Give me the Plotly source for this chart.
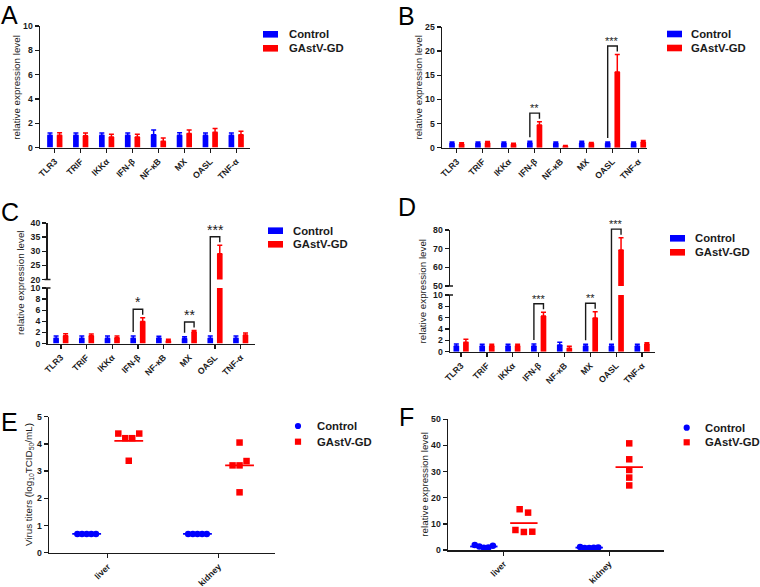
import plotly.graph_objects as go

W, H = 760, 587
FONT = "Liberation Sans, Arial, sans-serif"
BLUE = "#0000ff"
RED = "#ff0000"
INK = "#1a1a1a"

# ---------------- data ----------------
genes = ["TLR3", "TRIF", "IKKα", "IFN-β", "NF-κB", "MX", "OASL", "TNF-α"]
series_names = ["Control", "GAstV-GD"]

a_ctrl = [1.0, 1.0, 1.0, 1.0, 1.05, 1.0, 1.0, 1.0]
a_ctrl_err = [0.2, 0.2, 0.2, 0.2, 0.4, 0.22, 0.2, 0.2]
a_gd = [1.0, 0.97, 0.87, 0.87, 0.52, 1.15, 1.25, 1.05]
a_gd_err = [0.22, 0.22, 0.22, 0.22, 0.27, 0.3, 0.32, 0.28]

b_ctrl = [0.9, 0.9, 0.9, 1.0, 0.9, 1.0, 0.9, 0.9]
b_ctrl_err = [0.3, 0.3, 0.3, 0.35, 0.3, 0.35, 0.3, 0.3]
b_gd = [0.75, 1.0, 0.7, 4.7, 0.3, 0.9, 15.7, 1.2]
b_gd_err = [0.3, 0.3, 0.2, 0.7, 0.15, 0.2, 3.6, 0.3]
b_sig = ["", "", "", "**", "", "", "***", ""]

c_ctrl = [0.95, 0.95, 0.95, 0.95, 1.0, 0.9, 0.95, 0.95]
c_ctrl_err = [0.4, 0.4, 0.4, 0.4, 0.3, 0.3, 0.4, 0.4]
c_gd = [1.4, 1.4, 1.05, 3.95, 0.5, 2.05, 29.1, 1.55]
c_gd_err = [0.35, 0.3, 0.3, 0.7, 0.25, 0.3, 3.0, 0.35]
c_sig = ["", "", "", "*", "", "**", "***", ""]

d_ctrl = [1.0, 1.0, 1.0, 1.0, 1.2, 1.0, 1.0, 1.0]
d_ctrl_err = [0.35, 0.3, 0.3, 0.35, 0.45, 0.3, 0.3, 0.3]
d_gd = [1.65, 1.05, 1.05, 6.3, 0.6, 5.95, 69.3, 1.35]
d_gd_err = [0.55, 0.25, 0.25, 0.65, 0.35, 1.1, 6.6, 0.25]
d_sig = ["", "", "", "***", "", "**", "***", ""]

tissues = ["liver", "kidney"]
e_ctrl_liver = [0.69, 0.69, 0.69, 0.69, 0.69]
e_ctrl_kidney = [0.69, 0.69, 0.69, 0.69, 0.69]
e_gd_liver = [4.38, 4.21, 4.21, 4.38, 3.38]
e_gd_kidney = [3.21, 3.21, 3.37, 4.05, 2.22]

f_ctrl_liver = [1.9, 1.3, 0.9, 1.0, 1.6]
f_ctrl_kidney = [1.1, 0.8, 0.8, 0.9, 1.0]
f_gd_liver = [15.6, 14.3, 7.65, 6.9, 7.0]
f_gd_kidney = [40.8, 34.7, 30.6, 27.7, 24.7]

# ---------------- helpers ----------------
def xdom(x0, x1):
    return [x0 / W, x1 / W]


def ydom(top, bot):
    return [1 - bot / H, 1 - top / H]


axis_base = dict(
    showline=True, linecolor=INK, linewidth=1.5, ticks="outside", ticklen=4,
    tickwidth=1.3, tickcolor=INK, showgrid=False, zeroline=False, fixedrange=True,
    automargin=False,
    tickfont=dict(family=FONT, size=8.7, color=INK, weight="bold"),
)

fig = go.Figure()
layout = dict(
    width=W, height=H, autosize=False,
    margin=dict(l=0, r=0, t=0, b=0, pad=0, autoexpand=False),
    paper_bgcolor="white", plot_bgcolor="rgba(0,0,0,0)",
    showlegend=False, barmode="overlay",
    font=dict(family=FONT, color=INK),
)
shapes = []
annotations = []

BAR_W = 0.22
OFF_CTRL = -0.185
OFF_GD = 0.185


def yp(segs, v):
    """map a data value to paper y for a (possibly broken) axis"""
    for dom, rng in segs:
        if rng[0] <= v <= rng[1]:
            return dom[0] + (v - rng[0]) / (rng[1] - rng[0]) * (dom[1] - dom[0])
    if v > segs[-1][1][1]:
        dom, rng = segs[-1]
    else:
        dom, rng = segs[0]
    return dom[0] + (v - rng[0]) / (rng[1] - rng[0]) * (dom[1] - dom[0])


def bar_panel(xa, yas, xpx, xrange, seg_px, seg_rng, seg_dtick, ctrl, ctrl_err, gd, gd_err, sig, star_size):
    idx = list(range(len(genes)))
    layout["xaxis" + xa[1:]] = dict(
        axis_base, domain=xdom(*xpx), range=xrange, anchor=yas[0],
        tickvals=idx, ticktext=genes, tickangle=-45,
    )
    segs = []
    for ya, (top, bot), rng, dtick in zip(yas, seg_px, seg_rng, seg_dtick):
        dom = ydom(top, bot)
        segs.append((dom, rng))
        layout["yaxis" + ya[1:]] = dict(
            axis_base, domain=dom, range=rng, anchor=xa, tick0=rng[0], dtick=dtick,
        )
        for vals, errs, color, off in ((ctrl, ctrl_err, BLUE, OFF_CTRL), (gd, gd_err, RED, OFF_GD)):
            fig.add_trace(go.Bar(
                x=idx, y=vals, xaxis=xa, yaxis=ya,
                offset=off - BAR_W / 2, width=BAR_W,
                marker=dict(color=color, line=dict(width=0)),
                error_y=dict(type="data", symmetric=False, array=errs,
                             arrayminus=[0] * len(errs), color=color,
                             thickness=1.5, width=2.5),
                showlegend=False, hoverinfo="skip",
            ))
    # axis-break caps
    if len(seg_px) > 1:
        for yb in (seg_px[0][0], seg_px[1][1]):
            shapes.append(dict(type="line", xref="paper", yref="paper",
                               x0=(xpx[0] - 3) / W, x1=(xpx[0] + 3) / W,
                               y0=1 - yb / H, y1=1 - yb / H,
                               line=dict(color=INK, width=1.5)))
    # significance brackets
    for i, s in enumerate(sig):
        if not s:
            continue
        xl, xr = i + OFF_CTRL, i + OFF_GD
        y_l = yp(segs, ctrl[i] + ctrl_err[i]) + 4 / H
        y_r = yp(segs, gd[i] + gd_err[i]) + 3 / H
        y_t = max(y_l, y_r) + 5.5 / H
        shapes.append(dict(
            type="path", xref=xa, yref="paper",
            path=f"M {xl},{y_l} V {y_t} H {xr} V {y_r}",
            line=dict(color=INK, width=1.4),
        ))
        annotations.append(dict(
            x=(xl + xr) / 2, y=y_t, xref=xa, yref="paper", text=s,
            showarrow=False, xanchor="center", yanchor="bottom", yshift=-3,
            font=dict(family=FONT, size=star_size, color=INK),
        ))


def swarm(vals, step, thresh):
    order = sorted(range(len(vals)), key=lambda i: vals[i])
    clusters, cur = [], [order[0]]
    for i in order[1:]:
        if vals[i] - vals[cur[-1]] < thresh:
            cur.append(i)
        else:
            clusters.append(cur)
            cur = [i]
    clusters.append(cur)
    offs = [0.0] * len(vals)
    for c in clusters:
        c = sorted(c)
        m = len(c)
        for k, i in enumerate(c):
            offs[i] = (k - (m - 1) / 2) * step
    return offs


def dot_panel(xa, ya, xpx, xrange, ypx, yrange, dtick, groups, thresh):
    layout["xaxis" + xa[1:]] = dict(
        axis_base, domain=xdom(*xpx), range=xrange, anchor=ya,
        tickvals=[1, 2], ticktext=tissues, tickangle=-45,
    )
    layout["yaxis" + ya[1:]] = dict(
        axis_base, domain=ydom(*ypx), range=yrange, anchor=xa, tick0=0, dtick=dtick,
    )
    for vals, pos, color, symbol, size, goff, step in groups:
        center = pos + goff
        mean = sum(vals) / len(vals)
        fig.add_trace(go.Scatter(
            x=[center - 0.13, center + 0.13], y=[mean, mean], xaxis=xa, yaxis=ya,
            mode="lines", line=dict(color=color, width=1.8),
            showlegend=False, hoverinfo="skip",
        ))
        offs = swarm(vals, step, thresh)
        fig.add_trace(go.Scatter(
            x=[center + o for o in offs], y=vals, xaxis=xa, yaxis=ya,
            mode="markers", marker=dict(color=color, symbol=symbol, size=size, line=dict(width=0)),
            showlegend=False, hoverinfo="skip", cliponaxis=False,
        ))


# ---------------- panels ----------------
bar_panel("x", ["y"], (40, 250), [-0.571, 7.533],
          [(26, 147.5)], [[0, 10]], [2],
          a_ctrl, a_ctrl_err, a_gd, a_gd_err, [""] * 8, 11)
bar_panel("x2", ["y2"], (442, 647), [-0.571, 7.33],
          [(27, 147.7)], [[0, 25]], [5],
          b_ctrl, b_ctrl_err, b_gd, b_gd_err, b_sig, 11)
bar_panel("x3", ["y3", "y4"], (47.5, 255), [-0.52, 7.556],
          [(288, 343.5), (223, 279.5)], [[0, 10], [20, 40]], [2, 5],
          c_ctrl, c_ctrl_err, c_gd, c_gd_err, c_sig, 14)
bar_panel("x4", ["y5", "y6"], (450, 655.3), [-0.43, 7.51],
          [(295, 351.7), (230, 286)], [[0, 10], [50, 80]], [2, 10],
          d_ctrl, d_ctrl_err, d_gd, d_gd_err, d_sig, 11)

dot_panel("x5", "y7", (49, 275), [0.47, 2.51], (416.7, 552.7), [0, 5], 1, [
    (e_ctrl_liver, 1, BLUE, "circle", 6.5, -0.19, 0.042),
    (e_ctrl_kidney, 2, BLUE, "circle", 6.5, -0.19, 0.042),
    (e_gd_liver, 1, RED, "square", 6.5, 0.19, 0.063),
    (e_gd_kidney, 2, RED, "square", 6.5, 0.19, 0.063),
], 0.26)
dot_panel("x6", "y8", (448, 664), [0.47, 2.52], (419.3, 550), [0, 50], 10, [
    (f_ctrl_liver, 1, BLUE, "circle", 6.5, -0.19, 0.043),
    (f_ctrl_kidney, 2, BLUE, "circle", 6.5, -0.19, 0.043),
    (f_gd_liver, 1, RED, "square", 6.5, 0.19, 0.08),
    (f_gd_kidney, 2, RED, "square", 6.5, 0.19, 0.08),
], 2.68)

# ---------------- y-axis titles ----------------
ytitles = [
    (15.7, 87, "relative expression level"),
    (418.3, 87.3, "relative expression level"),
    (20, 283, "relative expression level"),
    (422.7, 290.8, "relative expression level"),
    (28.3, 484.7, "Virus titers (log<sub>10</sub>TCID<sub>50</sub>/mL)"),
    (425, 484.7, "relative expression level"),
]
for x, y, t in ytitles:
    annotations.append(dict(
        x=x / W, y=1 - y / H, xref="paper", yref="paper", text=t, textangle=-90,
        showarrow=False, xanchor="center", yanchor="middle",
        font=dict(family=FONT, size=9.8, color=INK),
    ))

# ---------------- panel letters ----------------
for x, y, t in [(0, 0, "A"), (397, 1.5, "B"), (0, 197, "C"),
                (397, 192, "D"), (0, 407, "E"), (398, 401.5, "F")]:
    annotations.append(dict(
        x=x / W, y=1 - y / H, xref="paper", yref="paper", text=t,
        showarrow=False, xanchor="left", yanchor="top", borderpad=0,
        font=dict(family=FONT, size=25, color="black"),
    ))

# ---------------- legends ----------------
legends = [
    (263, 34.3, 48.3, 286.7, "bar"),
    (667, 34, 48, 689.3, "bar"),
    (268, 230.7, 244.3, 291, "bar"),
    (670, 238.3, 252.3, 693.3, "bar"),
    (298, 426, 441.7, 315, "dot"),
    (686.7, 427.7, 442.3, 702.7, "dot"),
]
for sx, yc, yg, tx, kind in legends:
    for yy, color, name, sym in ((yc, BLUE, series_names[0], "circle"), (yg, RED, series_names[1], "rect")):
        if kind == "bar":
            shapes.append(dict(type="rect", xref="paper", yref="paper",
                               x0=sx / W, x1=(sx + 15) / W,
                               y0=1 - (yy + 3.3) / H, y1=1 - (yy - 3.3) / H,
                               fillcolor=color, line=dict(width=0)))
        else:
            r = 3.1
            shapes.append(dict(type=sym, xref="paper", yref="paper",
                               x0=(sx - r) / W, x1=(sx + r) / W,
                               y0=1 - (yy + r) / H, y1=1 - (yy - r) / H,
                               fillcolor=color, line=dict(width=0)))
        annotations.append(dict(
            x=tx / W, y=1 - yy / H, xref="paper", yref="paper", text=name,
            showarrow=False, xanchor="left", yanchor="middle",
            font=dict(family=FONT, size=11.3, color=INK, weight="bold"),
        ))

layout["shapes"] = shapes
layout["annotations"] = annotations
fig.update_layout(**layout)
fig.write_html(
    "out.html",
    config={"displayModeBar": False, "staticPlot": True},
    post_script="document.body.style.margin='0';document.body.style.overflow='hidden';",
)
